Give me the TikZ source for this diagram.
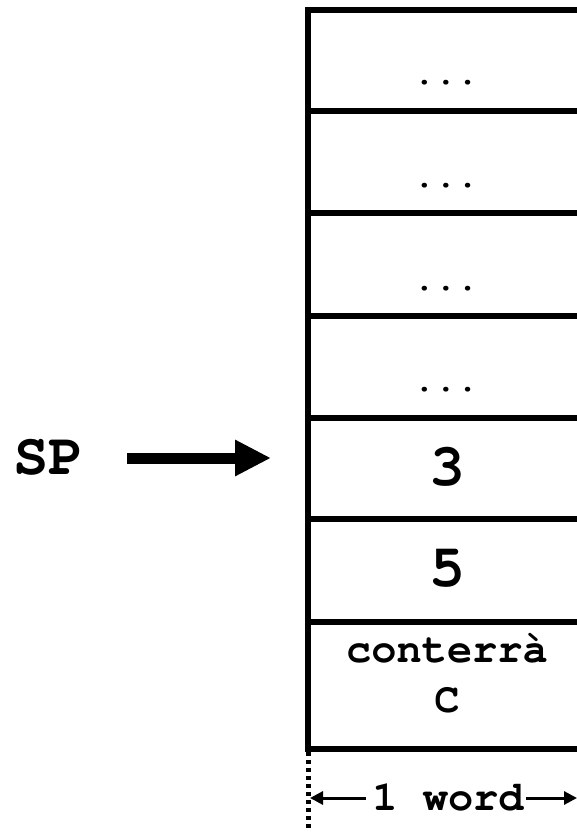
\documentclass[tikz,border=0pt]{standalone}
\usepackage[T1]{fontenc}
\usepackage{courier}
\usetikzlibrary{arrows.meta}
\begin{document}
\begin{tikzpicture}[x=1pt,y=-1pt,
  wall/.style={line width=6pt},
  dotsl/.style={font=\fontsize{36}{36}\selectfont\ttfamily\bfseries, anchor=base, inner sep=0pt},
  numl/.style={font=\fontsize{60}{60}\selectfont\ttfamily\bfseries, inner sep=0pt},
  txtl/.style={font=\fontsize{42}{42}\selectfont\ttfamily\bfseries, anchor=base, inner sep=0pt},
  dimarrow/.style={line width=3pt, -{Triangle[length=13pt,width=13pt]}}]
\useasboundingbox (0,0) rectangle (577,832);
% stack frame
\draw[wall] (308,7) -- (308,752);
\foreach \y in {10,111,213,316,418,519,622,749}
  \draw[wall] (305,\y) -- (577,\y);
\draw[line width=5pt, dash pattern=on 4pt off 4pt] (308,752) -- (308,832);
% cell contents
\node[dotsl] (d1) at (446,85) {...};
\node[dotsl] (d2) at (446,187) {...};
\node[dotsl] (d3) at (446,290) {...};
\node[dotsl] (d4) at (446,391) {...};
\node[numl] (n3) at (447,467) {3};
\node[numl] (n5) at (447,569) {5};
\node[txtl] (c1) at (447,662) {conterr\`a};
\node[txtl] (c2) at (447,712) {C};
% SP pointer
\node[font=\fontsize{59}{59}\selectfont\ttfamily\bfseries, anchor=base, inner sep=0pt] (sp) at (49,474) {SP};
\coordinate (spstart) at (127,458);
\coordinate (spend) at (271,458);
\draw[line width=11pt, -{Triangle[length=36pt,width=34pt]}] (spstart) -- (spend);
% word dimension
\node[font=\fontsize{42}{42}\selectfont\ttfamily\bfseries, inner sep=0pt, anchor=base] (w) at (448,810) {1 word};
\coordinate (wl) at (310,798);
\coordinate (wr) at (577,798);
\draw[dimarrow] (w.west |- wl) ++(-6,0) -- (wl);
\draw[dimarrow] (w.east |- wr) ++(2,0) -- (wr);
\end{tikzpicture}
\end{document}
